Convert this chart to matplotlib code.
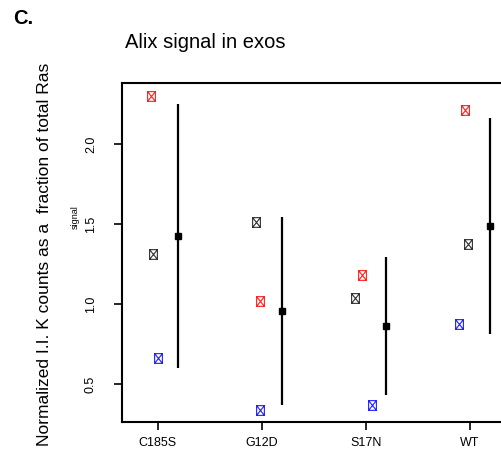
import numpy as np
import matplotlib
matplotlib.use("Agg")
import matplotlib.pyplot as plt
from matplotlib.path import Path

plt.rcParams['font.family'] = ['Liberation Sans', 'DejaVu Sans']

groups = ["C185S", "G12D", "S17N", "WT"]
# replicate values: red, black, blue
red_vals = [2.30, 1.02, 1.18, 2.21]
black_vals = [1.31, 1.51, 1.04, 1.375]
blue_vals = [0.66, 0.34, 0.37, 0.873]
# horizontal jitter of each replicate
red_jit = [-0.067, -0.013, -0.038, -0.048]
black_jit = [-0.042, -0.058, -0.099, -0.019]
blue_jit = [0.003, -0.016, 0.064, -0.103]

reps = np.array([red_vals, black_vals, blue_vals])
means = reps.mean(axis=0)
sds = reps.std(axis=0, ddof=1)

# box with a cross, like R's pch=7
box_x = Path([(-0.4, -0.5), (0.4, -0.5), (0.4, 0.5), (-0.4, 0.5), (-0.4, -0.5),
              (-0.4, -0.5), (0.4, 0.5), (-0.4, 0.5), (0.4, -0.5)],
             [Path.MOVETO, Path.LINETO, Path.LINETO, Path.LINETO, Path.CLOSEPOLY,
              Path.MOVETO, Path.LINETO, Path.MOVETO, Path.LINETO])

fig = plt.figure(figsize=(5.01, 4.5), dpi=100)
ax = fig.add_axes([122 / 501, 28 / 450, (508 - 122) / 501, (422 - 83) / 450])

x = np.arange(1, len(groups) + 1)
for vals, jit, col in [(red_vals, red_jit, '#ff2020'), (black_vals, black_jit, '#303030'),
                       (blue_vals, blue_jit, '#2020ff')]:
    ax.plot(x + np.array(jit), vals, linestyle='none', marker=box_x, markersize=7,
            markerfacecolor='none', markeredgecolor=col, markeredgewidth=0.8)

xm = x + 0.198
ax.vlines(xm, means - sds, means + sds, color='black', linewidth=1.6)
ax.plot(xm, means, linestyle='none', marker='s', markersize=5, color='black')

ax.set_xlim(0.657, 1 + (508 - 157.7) / 104)
ax.set_ylim(0.2625, 2.381)
ax.set_xticks(x)
ax.set_xticklabels(groups, fontsize=9)
ax.set_yticks([0.5, 1.0, 1.5, 2.0])
ax.set_yticklabels(['0.5', '1.0', '1.5', '2.0'], fontsize=9, rotation=90, va='center')
ax.tick_params(axis='both', direction='out', length=6, width=1.2)
ax.tick_params(axis='y', pad=12)
ax.tick_params(axis='x', pad=5)
for s in ax.spines.values():
    s.set_linewidth(1.5)

fig.text(205 / 501, 1 - 42 / 450, "Alix signal in exos", fontsize=14.5, ha='center', va='center')
fig.text(13 / 501, 1 - 18 / 450, "C.", fontsize=14.5, fontweight='bold', ha='left', va='center')
fig.text(45 / 501, 1 - 254 / 450, "Normalized I.I. K counts as a  fraction of total Ras",
         fontsize=12.5, rotation=90, ha='center', va='center')
fig.text(75 / 501, 1 - 217 / 450, "signal", fontsize=6.5, rotation=90, ha='center', va='center')

fig.savefig("out.png", dpi=100)
